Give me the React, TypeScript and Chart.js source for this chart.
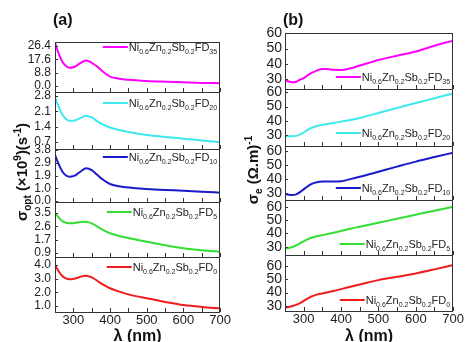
import React, { useEffect, useRef } from 'react';
import { Chart, registerables } from 'chart.js';
Chart.register(...registerables);

// ---------- data ----------
const wavelength = [250, 260, 270, 280, 290, 300, 310, 320, 335, 350, 365, 380, 400, 425, 450, 500, 550, 600, 650, 700];
const seriesNames = ['35', '20', '10', '5', '0'];

// panel (a): sigma_opt (x10^9 s^-1)
const optFD35 = [28.4, 21.5, 16, 13.2, 12, 12.3, 13.6, 15.3, 16.8, 15.3, 12.8, 9.5, 6.2, 4.8, 4.1, 3.3, 2.8, 2.4, 2.0, 1.8];
const optFD20 = [2.75, 2.3, 1.95, 1.75, 1.67, 1.67, 1.72, 1.8, 1.9, 1.82, 1.65, 1.5, 1.36, 1.25, 1.16, 1.02, 0.93, 0.85, 0.77, 0.69];
const optFD10 = [3.43, 2.75, 2.2, 1.9, 1.81, 1.85, 2.0, 2.2, 2.44, 2.3, 1.95, 1.6, 1.27, 1.1, 1.0, 0.89, 0.82, 0.77, 0.7, 0.62];
const optFD5 = [3.5, 3.2, 2.95, 2.85, 2.81, 2.82, 2.86, 2.9, 2.91, 2.8, 2.6, 2.38, 2.16, 1.98, 1.85, 1.61, 1.38, 1.18, 1.05, 0.96];
const optFD0 = [4.0, 3.55, 3.2, 3.02, 2.96, 2.98, 3.05, 3.15, 3.22, 3.1, 2.85, 2.58, 2.3, 2.05, 1.85, 1.56, 1.3, 1.07, 0.93, 0.83];

// panel (b): sigma_e (Ohm.m)^-1
const elecFD35 = [29.3, 28.3, 27.8, 28.2, 29.5, 30.5, 32.3, 33.8, 35.5, 36.6, 36.5, 36.0, 35.9, 37.0, 38.8, 42.5, 45.3, 48.0, 51.8, 55.2];
const elecFD20 = [29.3, 29.2, 29.2, 29.4, 30.3, 31.8, 33.5, 35.0, 36.3, 37.2, 37.8, 38.5, 39.4, 40.5, 42.0, 45.5, 49.0, 52.5, 55.8, 59.2];
const elecFD10 = [29.5, 29.0, 28.8, 29.3, 30.8, 32.8, 34.8, 36.5, 37.8, 38.3, 38.3, 38.3, 38.5, 40.0, 41.6, 45.2, 48.8, 52.3, 55.5, 58.6];
const elecFD5 = [28.8, 29.1, 29.8, 31.0, 32.5, 34.0, 35.5, 36.7, 37.8, 38.7, 39.6, 40.5, 41.8, 43.5, 45.0, 48.0, 51.0, 54.0, 57.0, 60.0];
const elecFD0 = [28.8, 29.3, 30.0, 30.9, 32.2, 33.8, 35.5, 37.0, 38.5, 39.4, 40.3, 41.2, 42.6, 44.3, 46.0, 49.3, 51.8, 54.3, 57.3, 60.5];

const optTicks = [[0, 8.8, 17.6, 26.4], [0.7, 1.4, 2.1, 2.8], [0, 0.95, 1.9, 2.85, 3.8], [0.87, 1.74, 2.61, 3.48], [1, 2, 3, 4]];
const optRanges = [[-4, 29], [0.38, 2.98], [-0.07, 3.87], [0.61, 4.2], [0.56, 4.59]];
const elecTicks = [[30, 40, 50, 60], [30, 40, 50, 60], [30, 40, 50, 60], [30, 40, 50, 60], [30, 40, 50, 60]];
const elecRanges = [[23.4, 60.2], [22.3, 62.3], [25.3, 63.3], [23.8, 65], [26.3, 68]];
const xTicks = [300, 400, 500, 600, 700];
const xMin = 250;
const xMax = 700;

const colors = ['#ff00ff', '#3ee8ee', '#1a1acc', '#33dd33', '#ee1c1c'];
const FONT = '"Liberation Sans", Arial, Helvetica, sans-serif';

type Seg = { t: string; k?: 'sub' | 'sup' };

function drawRich(ctx: CanvasRenderingContext2D, segs: Seg[], x: number, y: number, size: number, bold: boolean, align: 'left' | 'center' | 'right', subScale = 0.65) {
  const fontFor = (k?: string) => `${bold ? 'bold ' : ''}${k ? Math.round(size * subScale) : size}px ${FONT}`;
  let w = 0;
  segs.forEach((s) => { ctx.font = fontFor(s.k); w += ctx.measureText(s.t).width; });
  let cx = align === 'left' ? x : align === 'center' ? x - w / 2 : x - w;
  ctx.textAlign = 'left';
  ctx.textBaseline = 'alphabetic';
  segs.forEach((s) => {
    ctx.font = fontFor(s.k);
    const dy = s.k === 'sub' ? size * 0.28 : s.k === 'sup' ? -size * 0.42 : 0;
    ctx.fillText(s.t, cx, y + dy);
    cx += ctx.measureText(s.t).width;
  });
  return w;
}

function legendSegs(n: string): Seg[] {
  return [{ t: 'Ni' }, { t: '0.6', k: 'sub' }, { t: 'Zn' }, { t: '0.2', k: 'sub' }, { t: 'Sb' }, { t: '0.2', k: 'sub' }, { t: 'FD' }, { t: n, k: 'sub' }];
}

interface PanelCfg {
  left: number; width: number; height: number;
  padding: { left: number; right: number; top: number; bottom: number };
  yWidth: number; xHeight: number;
  series: number[][]; ranges: number[][]; ticks: number[][]; weights: number[];
  tickFont: number; tickPad: number; decimals: number;
  legendAt: 'top' | 'bottom'; legendOffsets: number[];
  label: string; titleSegs: Seg[]; titleX: number; titleY: number;
}

function Panel({ cfg }: { cfg: PanelCfg }) {
  const ref = useRef<HTMLCanvasElement | null>(null);
  useEffect(() => {
    if (!ref.current) return;
    const scales: any = {
      x: {
        type: 'linear', position: 'bottom', min: xMin, max: xMax,
        afterBuildTicks: (s: any) => { s.ticks = xTicks.map((v) => ({ value: v })); },
        afterFit: (s: any) => { s.height = cfg.xHeight; },
        ticks: { font: { size: 13, family: FONT }, color: '#222', padding: 1, maxRotation: 0, autoSkip: false },
        grid: { display: false, drawTicks: false },
        border: { display: false },
      },
    };
    // stacked axes are placed bottom-up in definition order, so define the lowest subplot first
    for (let i = cfg.series.length - 1; i >= 0; i--) {
      scales['y' + i] = {
        type: 'linear', position: 'left', stack: 'panel', stackWeight: cfg.weights[i],
        min: cfg.ranges[i][0], max: cfg.ranges[i][1],
        afterBuildTicks: (s: any) => { s.ticks = cfg.ticks[i].map((v) => ({ value: v })); },
        afterFit: (s: any) => { s.width = cfg.yWidth; },
        ticks: {
          font: { size: cfg.tickFont, family: FONT }, color: '#222', padding: cfg.tickPad, autoSkip: false,
          callback: (v: any) => (Math.round(Number(v) * Math.pow(10, cfg.decimals)) / Math.pow(10, cfg.decimals)).toFixed(cfg.decimals),
        },
        grid: { display: false, drawTicks: false },
        border: { display: false },
      };
    }

    const deco = {
      id: 'deco',
      afterDraw(chart: any) {
        const ctx: CanvasRenderingContext2D = chart.ctx;
        const ca = chart.chartArea;
        const xs = chart.scales.x;
        ctx.save();
        cfg.series.forEach((_, i) => {
          const ys = chart.scales['y' + i];
          ctx.strokeStyle = '#333';
          ctx.lineWidth = 1;
          ctx.strokeRect(Math.round(ca.left) + 0.5, Math.round(ys.top) + 0.5, Math.round(ca.right - ca.left) - 1, Math.round(ys.bottom - ys.top));
          ctx.beginPath();
          for (let v = xMin; v <= xMax; v += 50) {
            const px = Math.round(xs.getPixelForValue(v)) + 0.5;
            ctx.moveTo(px, ys.bottom);
            ctx.lineTo(px, ys.bottom - 4);
          }
          cfg.ticks[i].forEach((v) => {
            const py = Math.round(ys.getPixelForValue(v)) + 0.5;
            ctx.moveTo(ca.left, py);
            ctx.lineTo(ca.left + 3, py);
          });
          ctx.stroke();
          // legend
          const cy = cfg.legendAt === 'top' ? ys.top + cfg.legendOffsets[i] : ys.bottom - cfg.legendOffsets[i];
          ctx.fillStyle = '#222';
          const w = drawRich(ctx, legendSegs(seriesNames[i]), ca.right - 3, cy + 4, 11, false, 'right', 0.66);
          const tl = ca.right - 3 - w;
          ctx.strokeStyle = colors[i];
          ctx.lineWidth = 2;
          ctx.beginPath();
          ctx.moveTo(tl - 26, cy);
          ctx.lineTo(tl - 1, cy);
          ctx.stroke();
        });
        // panel label
        ctx.fillStyle = '#111';
        ctx.font = `bold 16px ${FONT}`;
        ctx.textAlign = 'left';
        ctx.textBaseline = 'middle';
        ctx.fillText(cfg.label, ca.left - 2, 21);
        // x title
        ctx.fillStyle = '#111';
        drawRich(ctx, [{ t: 'λ (nm)' }], (ca.left + ca.right) / 2, 341, 16, true, 'center');
        // y title
        ctx.translate(cfg.titleX, cfg.titleY);
        ctx.rotate(-Math.PI / 2);
        drawRich(ctx, cfg.titleSegs, 0, 5, 15, true, 'center');
        ctx.restore();
      },
    };

    const chart = new Chart(ref.current, {
      type: 'line',
      data: {
        datasets: cfg.series.map((d, i) => ({
          data: wavelength.map((x, j) => ({ x, y: d[j] })),
          yAxisID: 'y' + i,
          borderColor: colors[i],
          backgroundColor: colors[i],
          borderWidth: 2,
          pointRadius: 0,
          cubicInterpolationMode: 'monotone',
          fill: false,
        })),
      },
      options: {
        responsive: false,
        animation: false,
        devicePixelRatio: 1,
        layout: { padding: cfg.padding },
        plugins: { legend: { display: false }, tooltip: { enabled: false }, title: { display: false } },
        scales,
      } as any,
      plugins: [deco],
    });
    return () => chart.destroy();
  }, [cfg]);
  return (
    <canvas
      ref={ref}
      width={cfg.width}
      height={cfg.height}
      style={{ position: 'absolute', left: cfg.left, top: 0, width: cfg.width, height: cfg.height }}
    />
  );
}

const panelA: PanelCfg = {
  left: 0, width: 232, height: 342,
  padding: { left: 20, right: 3, top: 42, bottom: 0 },
  yWidth: 35, xHeight: 30,
  series: [optFD35, optFD20, optFD10, optFD5, optFD0],
  ranges: optRanges, ticks: optTicks, weights: [50, 57, 53, 55, 55],
  tickFont: 12, tickPad: 4, decimals: 1,
  legendAt: 'top', legendOffsets: [5, 11, 8, 10, 10],
  label: '(a)',
  titleSegs: [{ t: 'σ' }, { t: 'opt', k: 'sub' }, { t: ' (×10' }, { t: '9', k: 'sup' }, { t: ')(s' }, { t: '-1', k: 'sup' }, { t: ')' }],
  titleX: 22, titleY: 172,
};

const panelB: PanelCfg = {
  left: 232, width: 233, height: 342,
  padding: { left: 18, right: 6, top: 33, bottom: 0 },
  yWidth: 35, xHeight: 31,
  series: [elecFD35, elecFD20, elecFD10, elecFD5, elecFD0],
  ranges: elecRanges, ticks: elecTicks, weights: [56, 57, 54, 55, 56],
  tickFont: 14, tickPad: 3, decimals: 0,
  legendAt: 'bottom', legendOffsets: [12, 13, 12, 11, 11],
  label: '(b)',
  titleSegs: [{ t: 'σ' }, { t: 'e', k: 'sub' }, { t: ' (Ω.m)' }, { t: '-1', k: 'sup' }],
  titleX: 21, titleY: 170,
};

export default function App() {
  return (
    <div style={{ position: 'fixed', left: 0, top: 0, width: 465, height: 342, background: '#fff', overflow: 'hidden' }}>
      <Panel cfg={panelA} />
      <Panel cfg={panelB} />
    </div>
  );
}
